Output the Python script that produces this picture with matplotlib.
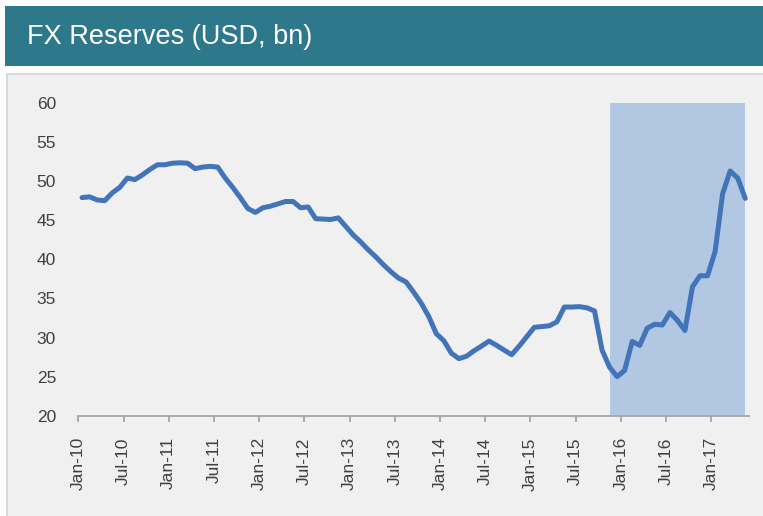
import matplotlib
matplotlib.use("Agg")
import matplotlib.pyplot as plt
from matplotlib.patches import Rectangle
import pandas as pd

# ---- data ----
months = pd.date_range("2010-01-01", periods=89, freq="MS").strftime("%b-%y").tolist()
reserves = [
    47.9, 48.0, 47.6, 47.5, 48.5, 49.2, 50.4, 50.2, 50.8, 51.5,
    52.1, 52.1, 52.3, 52.35, 52.3, 51.6, 51.8, 51.9, 51.8, 50.4,
    49.2, 47.9, 46.5, 46.0, 46.6, 46.8, 47.1, 47.4, 47.4, 46.6,
    46.7, 45.2, 45.15, 45.1, 45.3, 44.2, 43.1, 42.2, 41.2, 40.3,
    39.3, 38.4, 37.6, 37.1, 35.8, 34.4, 32.7, 30.5, 29.6, 28.0,
    27.3, 27.6, 28.3, 28.9, 29.55, 29.0, 28.4, 27.8, 28.9, 30.1,
    31.3, 31.4, 31.5, 32.0, 33.9, 33.9, 33.95, 33.8, 33.4, 28.4,
    26.2, 25.0, 25.8, 29.5, 29.0, 31.2, 31.7, 31.6, 33.2, 32.2,
    30.9, 36.5, 37.9, 37.9, 41.0, 48.4, 51.3, 50.4, 47.8,
]
tick_labels = ["Jan-10", "Jul-10", "Jan-11", "Jul-11", "Jan-12", "Jul-12", "Jan-13",
               "Jul-13", "Jan-14", "Jul-14", "Jan-15", "Jul-15", "Jan-16", "Jul-16", "Jan-17"]
y_ticks = [20, 25, 30, 35, 40, 45, 50, 55, 60]
shade_start, shade_end = "Nov-15", "May-17"
title = "FX Reserves (USD, bn)"

# ---- figure ----
W, H = 763, 516
fig = plt.figure(figsize=(W / 100, H / 100), dpi=100)
fig.patch.set_facecolor("white")

# header bar
fig.patches.append(Rectangle((5 / W, 1 - 66 / H), 758 / W, 60 / H, transform=fig.transFigure,
                             facecolor="#2E788C", edgecolor="none", zorder=-2))
# panel
fig.patches.append(Rectangle((7 / W, -0.01), 760 / W, 1.01 - 74 / H, transform=fig.transFigure,
                             facecolor="#F0F0F0", edgecolor="#D4D4D4", lw=1.2, zorder=-2))
fig.text(27 / W, 1 - 37 / H, title, color="white", fontsize=19.5, va="center", ha="left",
         family=["Liberation Sans", "DejaVu Sans"])

ax = fig.add_axes([78.3 / W, 1 - 415.7 / H, (749 - 78.3) / W, (415.7 - 103) / H])
ax.set_zorder(5)
ax.set_facecolor("none")

x = [i + 0.5 for i in range(len(reserves))]
ax.axvspan(months.index(shade_start) + 0.5, months.index(shade_end) + 0.5,
           facecolor="#B2C7E2", edgecolor="none", zorder=1)
ax.plot(x, reserves, color="#4274B9", lw=3.6, solid_joinstyle="round",
        solid_capstyle="round", zorder=3)

ax.set_xlim(0, len(months))
ax.set_ylim(y_ticks[0], y_ticks[-1])
ax.set_yticks(y_ticks)
ax.set_xticks([months.index(t) for t in tick_labels])
ax.set_xticklabels(tick_labels, rotation=90)

for s in ["left", "right", "top"]:
    ax.spines[s].set_visible(False)
ax.spines["bottom"].set_color("#A6A6A6")
ax.spines["bottom"].set_linewidth(1.3)

for lbl in ax.get_xticklabels() + ax.get_yticklabels():
    lbl.set_family(["Liberation Sans", "DejaVu Sans"])
ax.tick_params(axis="y", length=0, pad=16, labelsize=12.5, labelcolor="#404040")
ax.tick_params(axis="x", length=4.5, width=1.3, color="#A6A6A6", pad=11,
               labelsize=12.5, labelcolor="#404040")

fig.savefig("out.png", dpi=100)
